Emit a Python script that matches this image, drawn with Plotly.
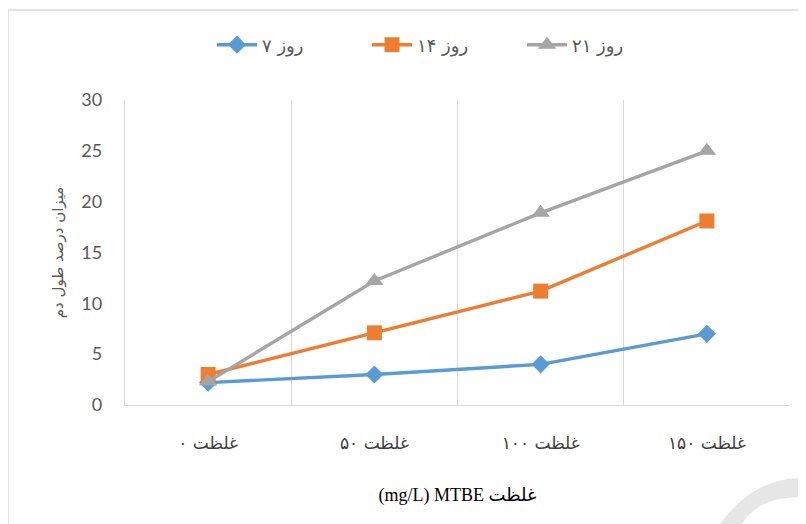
import plotly.graph_objects as go

categories = ["غلظت ۰", "غلظت ۵۰", "غلظت ۱۰۰", "غلظت ۱۵۰"]
series_names = ["روز ۷", "روز ۱۴", "روز ۲۱"]
day7 = [2.2, 3.0, 4.0, 7.0]
day14 = [3.0, 7.1, 11.2, 18.1]
day21 = [2.3, 12.2, 18.9, 25.0]
y_ticks = [0, 5, 10, 15, 20, 25, 30]

colors = ["#5B9BD5", "#ED7D31", "#A5A5A5"]
symbols = ["diamond", "square", "triangle-up"]
sizes = [14, 15, 16]

fig = go.Figure()
for name, vals, c, s, sz in zip(series_names, [day7, day14, day21], colors, symbols, sizes):
    fig.add_trace(go.Scatter(
        x=categories, y=vals, name=name, mode="lines+markers",
        line=dict(color=c, width=3.4),
        marker=dict(symbol=s, size=sz, color=c),
    ))

arabic_font = "DejaVu Sans, Noto Sans, sans-serif"

# page body has an 8px margin: figure coordinates = window coordinates - 8
OFF = 8
W, H = 806 - OFF, 524 - OFF
L, R, T, B = 125 - OFF, 790 - OFF, 100 - OFF, 405 - OFF
pw, ph = R - L, B - T


def px(x):
    return (x - OFF - L) / pw


def py(y):
    return (B - (y - OFF)) / ph


arc = "M {:.4f},{:.4f} Q {:.4f},{:.4f} {:.4f},{:.4f} L {:.4f},{:.4f} Q {:.4f},{:.4f} {:.4f},{:.4f} Z".format(
    px(720), py(524), px(755), py(476), px(806), py(478),
    px(806), py(497), px(760), py(495), px(742), py(524))

fig.update_layout(
    width=W, height=H,
    margin=dict(l=L, r=W - R, t=T, b=H - B),
    paper_bgcolor="white", plot_bgcolor="white",
    showlegend=True,
    legend=dict(orientation="h", x=px(212), xanchor="left", y=py(45), yanchor="middle",
                font=dict(family=arabic_font, size=18, color="#595959"),
                entrywidth=100, entrywidthmode="pixels",
                itemwidth=40, bgcolor="rgba(0,0,0,0)"),
    xaxis=dict(
        type="category", range=[-0.5, 3.5], tickson="boundaries",
        showgrid=True, gridcolor="#D9D9D9", gridwidth=1,
        showline=True, linecolor="#D9D9D9", linewidth=1.3,
        ticks="", ticklabelstandoff=22,
        tickfont=dict(family=arabic_font, size=17, color="#404040"),
        title=dict(text="(mg/L) MTBE غلظت", standoff=36,
                   font=dict(family="Liberation Serif, DejaVu Sans, serif", size=18, color="#000000")),
        zeroline=False,
    ),
    yaxis=dict(
        range=[0, 30], tickvals=y_ticks, showgrid=False,
        showline=True, linecolor="#D9D9D9", linewidth=1.3,
        ticks="", ticklabelstandoff=18,
        tickfont=dict(family="Lato, Open Sans, sans-serif", size=18, color="#595959"),
        title=dict(text="میزان درصد طول دم", standoff=14,
                   font=dict(family=arabic_font, size=15, color="#595959")),
        zeroline=False,
    ),
    shapes=[
        dict(type="rect", xref="paper", yref="paper",
             x0=px(8), x1=px(830), y0=py(540), y1=py(10),
             line=dict(color="#D9D9D9", width=1.5), fillcolor="rgba(0,0,0,0)", layer="below"),
        dict(type="path", xref="paper", yref="paper", path=arc,
             line=dict(width=0), fillcolor="#E6E6E6", layer="below"),
    ],
)

fig.write_html("out.html")
